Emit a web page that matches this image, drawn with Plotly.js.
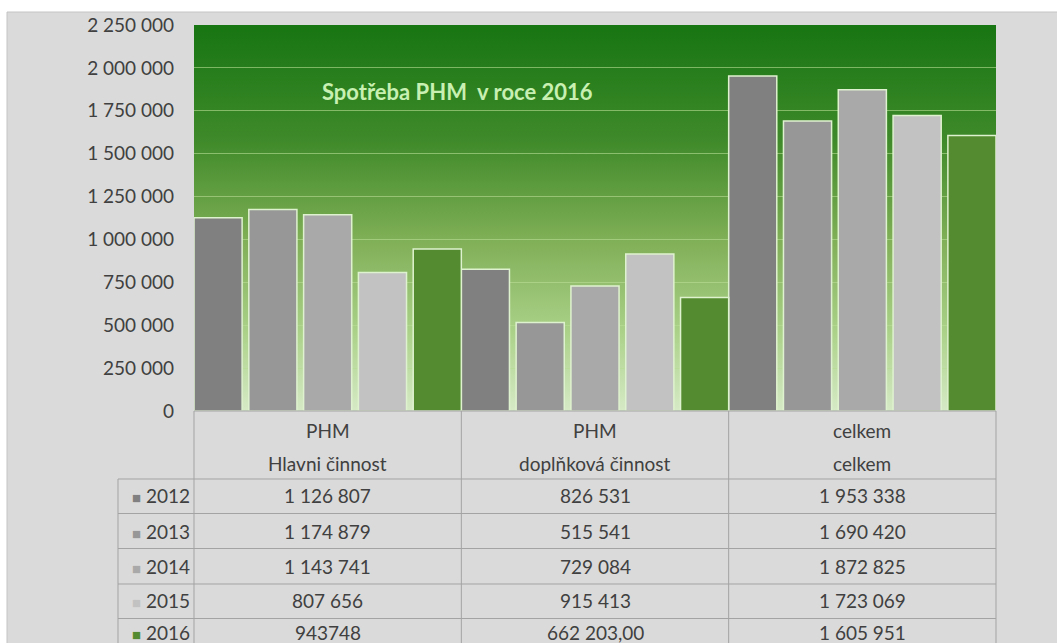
<!DOCTYPE html>
<html><head><meta charset="utf-8">
<script src="https://cdn.plot.ly/plotly-3.0.1.min.js"></script>
<style>html,body{margin:0;padding:0;background:#fff}#chart{width:1057px;height:643px}</style>
</head><body><div id="chart"></div>
<script>
// ---- data ----
const categories = ['PHM Hlavni činnost', 'PHM doplňková činnost', 'celkem celkem'];
const headerTop = ['PHM', 'PHM', 'celkem'];
const headerBottom = ['Hlavni činnost', 'doplňková činnost', 'celkem'];
const years = ['2012', '2013', '2014', '2015', '2016'];
const v2012 = [1126807, 826531, 1953338];
const v2013 = [1174879, 515541, 1690420];
const v2014 = [1143741, 729084, 1872825];
const v2015 = [807656, 915413, 1723069];
const v2016 = [943748, 662203, 1605951];
const series = [v2012, v2013, v2014, v2015, v2016];
const yTickVals = [0, 250000, 500000, 750000, 1000000, 1250000, 1500000, 1750000, 2000000, 2250000];
const chartTitle = 'Spotřeba PHM&nbsp; v roce 2016';
// number formats shown in the data table (as in the source sheet)
const cellFormats = {
  '2016': ['plain', 'dec2', 'space']
};

// ---- styles ----
const colors = ['#808080', '#979797', '#a9a9a9', '#c2c2c2', '#548b30'];
const W = 1057, H = 643;
const M = {l: 194, r: 61, t: 25, b: 232};
const PW = W - M.l - M.r, PH = H - M.t - M.b;
const px = x => (x - M.l) / PW;
const py = y => (M.t + PH - y) / PH;
const FONT = 'Lato, "Open Sans", sans-serif';
const TXT = '#404040';
const LINE = '#a3a3a3';

function spaced(n) {
  return String(n).replace(/\B(?=(\d{3})+(?!\d))/g, ' ');
}
function fmt(n, f) {
  if (f === 'plain') return String(n);
  if (f === 'dec2') return spaced(Math.floor(n)) + ',' + (n % 1).toFixed(2).slice(2);
  return spaced(n);
}

const barW = 0.18;
const gap = (1 - years.length * barW) / (years.length - 1);
const traces = years.map((yr, i) => ({
  type: 'bar',
  name: yr,
  x: categories,
  y: series[i],
  width: barW,
  offset: -0.5 + i * (barW + gap),
  marker: {color: colors[i], line: {color: '#dff2cf', width: 1.5}},
  hoverinfo: 'skip'
}));

// gradient plot background
const svg = '<svg xmlns="http://www.w3.org/2000/svg" width="100" height="100" preserveAspectRatio="none">' +
  '<defs><linearGradient id="g" x1="0" y1="0" x2="0" y2="1">' +
  '<stop offset="0" stop-color="#177512"/><stop offset="0.3" stop-color="#3f8a2a"/>' +
  '<stop offset="0.55" stop-color="#7eae55"/><stop offset="0.8" stop-color="#acd28a"/>' +
  '<stop offset="1" stop-color="#d6eac6"/></linearGradient></defs>' +
  '<rect width="100" height="100" fill="url(#g)"/></svg>';
const bgImg = 'data:image/svg+xml;charset=utf-8,' + encodeURIComponent(svg);

const shapes = [];
// white strips at top and left of the sheet
shapes.push({type: 'rect', xref: 'paper', yref: 'paper', layer: 'below', x0: px(-5), x1: px(W + 5), y0: py(12), y1: py(-5), fillcolor: '#ffffff', line: {width: 0}});
shapes.push({type: 'rect', xref: 'paper', yref: 'paper', layer: 'below', x0: px(-5), x1: px(7), y0: py(H + 5), y1: py(-5), fillcolor: '#ffffff', line: {width: 0}});
shapes.push({type: 'line', xref: 'paper', yref: 'paper', x0: px(7), x1: px(W + 5), y0: py(12), y1: py(12), line: {color: '#c4c4c4', width: 1}});
shapes.push({type: 'line', xref: 'paper', yref: 'paper', x0: px(7), x1: px(7), y0: py(12), y1: py(H + 5), line: {color: '#c4c4c4', width: 1}});
// table vertical lines (category boundaries)
[0, 1 / 3, 2 / 3, 1].forEach(xp => shapes.push({type: 'line', xref: 'paper', yref: 'paper', x0: xp, x1: xp, y0: 0, y1: py(H + 10), line: {color: LINE, width: 1}}));
// left border of legend column
shapes.push({type: 'line', xref: 'paper', yref: 'paper', x0: px(118), x1: px(118), y0: py(479), y1: py(H + 10), line: {color: LINE, width: 1}});
// horizontal lines
shapes.push({type: 'line', xref: 'paper', yref: 'paper', x0: 0, x1: 1, y0: 0, y1: 0, line: {color: LINE, width: 1}});
[479, 513.5, 548.5, 584, 618.5].forEach(yy => shapes.push({type: 'line', xref: 'paper', yref: 'paper', x0: px(118), x1: 1, y0: py(yy), y1: py(yy), line: {color: LINE, width: 1}}));

const annotations = [];
const tf = {family: FONT, size: 19, color: TXT};
categories.forEach((c, j) => {
  annotations.push({xref: 'x', yref: 'paper', x: c, y: py(430), text: headerTop[j], showarrow: false, font: tf, xanchor: 'center', yanchor: 'middle'});
  annotations.push({xref: 'x', yref: 'paper', x: c, y: py(463), text: headerBottom[j], showarrow: false, font: tf, xanchor: 'center', yanchor: 'middle'});
});
const rowY = [496, 531, 566, 600, 632];
years.forEach((yr, i) => {
  annotations.push({xref: 'paper', yref: 'paper', x: px(191), y: py(rowY[i]), xanchor: 'right', yanchor: 'middle', showarrow: false,
    text: '<span style="font-size:15px;color:' + colors[i] + '">■</span> ' + yr, font: tf, borderpad: 0});
  const f = cellFormats[yr] || ['space', 'space', 'space'];
  categories.forEach((c, j) => {
    annotations.push({xref: 'x', yref: 'paper', x: c, y: py(rowY[i]), text: fmt(series[i][j], f[j]), showarrow: false, font: tf, xanchor: 'center', yanchor: 'middle', borderpad: 0});
  });
});

const layout = {
  width: W, height: H,
  margin: M,
  paper_bgcolor: '#dadada',
  plot_bgcolor: 'rgba(0,0,0,0)',
  separators: ', ',
  showlegend: false,
  barmode: 'group',
  title: {text: chartTitle, x: 322 / W, xanchor: 'left', y: 1 - 92 / H, yanchor: 'middle',
    font: {family: FONT, size: 22, color: '#c8f0b2', weight: 'bold'}},
  xaxis: {showticklabels: false, showgrid: false, zeroline: false, showline: false, range: [-0.5, 2.5], fixedrange: true},
  yaxis: {range: [0, 2250000], tickvals: yTickVals, tickformat: ',d', showline: false, zeroline: false,
    gridcolor: 'rgba(185,222,150,0.6)', gridwidth: 1, ticklabelstandoff: 19,
    tickfont: {family: FONT, size: 19, color: TXT}, fixedrange: true},
  images: [{source: bgImg, xref: 'paper', yref: 'paper', x: 0, y: 1, sizex: 1, sizey: 1, sizing: 'stretch', xanchor: 'left', yanchor: 'top', layer: 'below'}],
  shapes: shapes,
  annotations: annotations
};

Plotly.newPlot('chart', traces, layout, {displayModeBar: false, staticPlot: true});
</script>
</body></html>
